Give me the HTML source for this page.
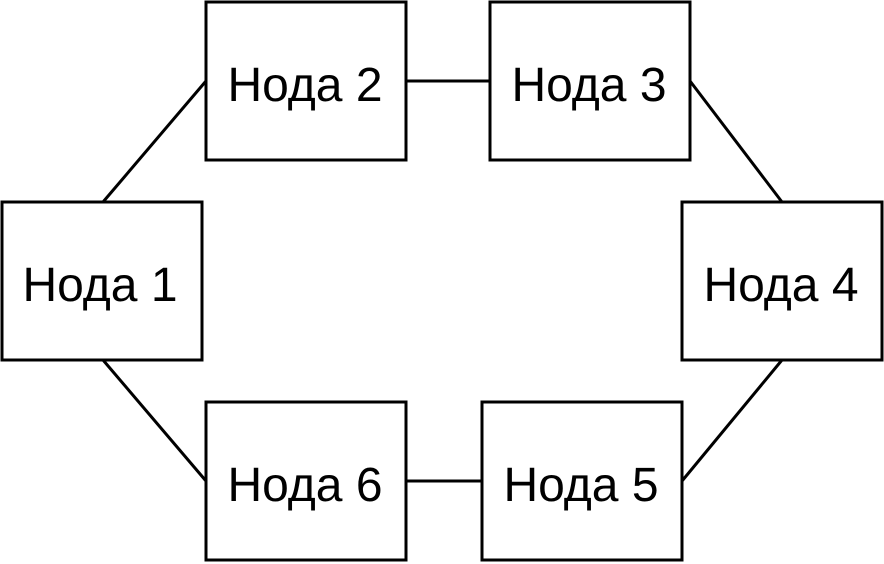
<!DOCTYPE html>
<html><head><meta charset="utf-8"><style>
html,body{margin:0;padding:0;background:#fff;}
svg{display:block;}
text{font-family:"Liberation Sans","DejaVu Sans",sans-serif;font-size:48px;fill:#000;}
</style></head><body>
<svg width="884" height="564" viewBox="0 0 884 564">
<g stroke="#000" stroke-width="3" fill="none">
<line x1="103" y1="202" x2="206" y2="81"/>
<line x1="406" y1="81" x2="490" y2="81"/>
<line x1="690" y1="81" x2="782" y2="202"/>
<line x1="782" y1="360" x2="682" y2="481"/>
<line x1="482" y1="481" x2="406" y2="481"/>
<line x1="206" y1="481" x2="103" y2="360"/>
<rect x="206" y="2" width="200" height="158" fill="#fff"/>
<rect x="490" y="2" width="200" height="158" fill="#fff"/>
<rect x="2" y="202" width="200" height="158" fill="#fff"/>
<rect x="682" y="202" width="200" height="158" fill="#fff"/>
<rect x="206" y="402" width="200" height="158" fill="#fff"/>
<rect x="482" y="402" width="200" height="158" fill="#fff"/>
</g>
<g text-anchor="middle">
<text x="305" y="101">Нода 2</text>
<text x="589" y="101">Нода 3</text>
<text x="100" y="301">Нода 1</text>
<text x="781" y="301">Нода 4</text>
<text x="305" y="501">Нода 6</text>
<text x="581" y="501">Нода 5</text>
</g>
</svg>
</body></html>
